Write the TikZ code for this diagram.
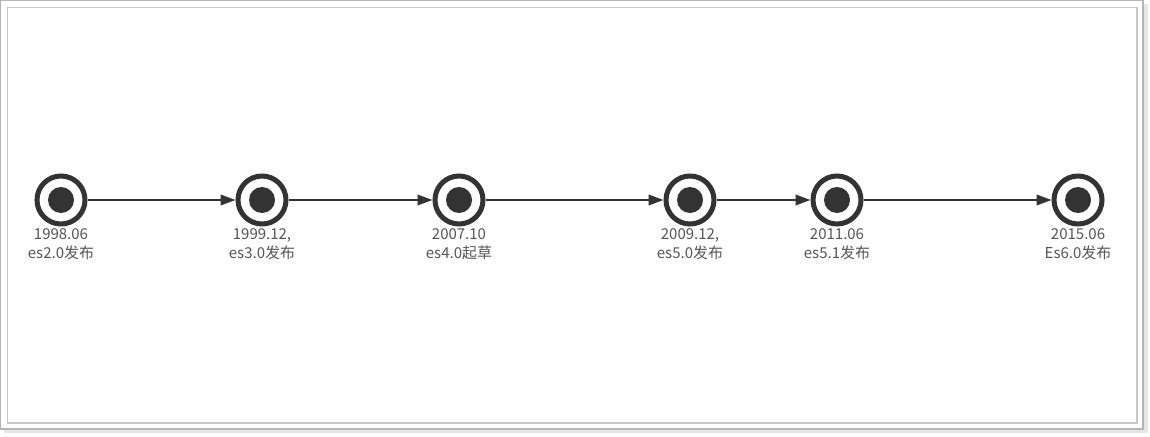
\documentclass[tikz,border=0pt]{standalone}
\usepackage{fontspec}
\setmainfont{Noto Sans CJK SC}
\usetikzlibrary{arrows.meta}
\definecolor{ink}{HTML}{333333}
\definecolor{txt}{HTML}{555555}
\definecolor{frameA}{HTML}{B4B4B4}
\definecolor{frameB}{HTML}{C8C8C8}
\definecolor{shadowC}{HTML}{E6E6E6}
\tikzset{
  evt/.style={circle, draw=ink, line width=5pt, minimum size=48pt, inner sep=0pt, fill=white},
  dot/.style={circle, fill=ink, minimum size=26pt, inner sep=0pt},
  lbl/.style={text=txt, font=\fontsize{15pt}{19pt}\selectfont, align=center, inner sep=0pt, anchor=north},
  link/.style={draw=ink, line width=2pt, -{Triangle[length=15pt,width=10.5pt]}}
}
\begin{document}
\begin{tikzpicture}[x=1pt,y=-1pt]
\useasboundingbox (0,0) rectangle (1150,436);
% shadow and frames
\fill[shadowC] (4,4) rectangle (1148,433);
\fill[white] (0.7,0.7) rectangle (1143,429);
\draw[frameA, line width=1.3pt] (0.7,0.7) rectangle (1143,429);
\draw[frameB, line width=1.5pt] (7.5,7.5) rectangle (1137,423);
% events
\foreach \n/\x in {a/61, b/262, c/459, d/690, e/837, f/1078}{
  \node[evt] (\n) at (\x,200) {};
  \node[dot] at (\n.center) {};
}
\node[lbl] (la) at (61,228.5) {1998.06\\es2.0发布};
\node[lbl] (lb) at (262,228.5) {1999.12,\\es3.0发布};
\node[lbl] (lc) at (459,228.5) {2007.10\\es4.0起草};
\node[lbl] (ld) at (690,228.5) {2009.12,\\es5.0发布};
\node[lbl] (le) at (837,228.5) {2011.06\\es5.1发布};
\node[lbl] (lf) at (1078,228.5) {2015.06\\Es6.0发布};
\draw[link] (a) -- (b);
\draw[link] (b) -- (c);
\draw[link] (c) -- (d);
\draw[link] (d) -- (e);
\draw[link] (e) -- (f);
\end{tikzpicture}
\end{document}
